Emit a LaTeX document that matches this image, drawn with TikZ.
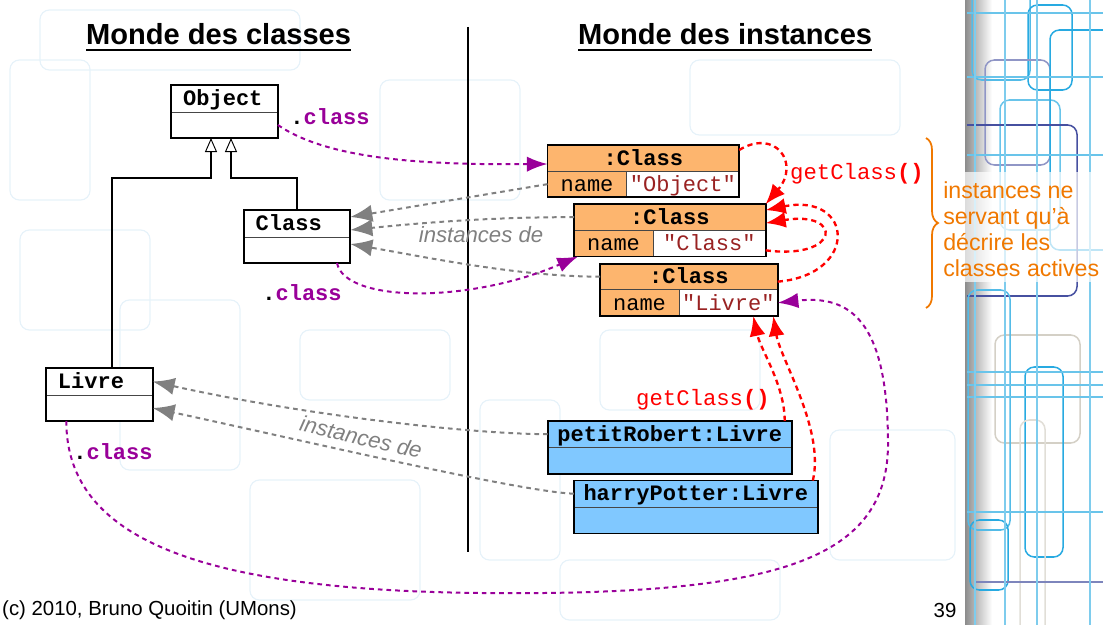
\documentclass[tikz,border=0pt]{standalone}
\usepackage{fontspec}
\setmainfont{Liberation Sans}
\setmonofont{Liberation Mono}
\usepackage{tikz}
\usetikzlibrary{calc,positioning,arrows.meta,decorations.pathreplacing}

\definecolor{clsorange}{RGB}{253,181,110}
\definecolor{objblue}{RGB}{128,200,255}
\definecolor{linkpurple}{RGB}{153,0,153}
\definecolor{instgray}{RGB}{128,128,128}
\definecolor{valred}{RGB}{153,34,34}
\definecolor{noteorange}{RGB}{240,120,0}
\definecolor{darkline}{RGB}{70,70,70}
\definecolor{bgcyan}{RGB}{40,170,225}
\definecolor{bgnavy}{RGB}{70,80,160}
\definecolor{bgbeige}{RGB}{212,208,198}
\definecolor{bgfaint}{RGB}{230,242,249}

\begin{document}
\begin{tikzpicture}[x=0.03cm, y=-0.03cm]
\tikzstyle{title}=[font=\fontsize{24.8}{28}\selectfont\bfseries, inner sep=0pt]
\tikzstyle{umlhead}=[draw=darkline, line width=0.6pt, fill=white, text width=2.48cm, align=left, inner xsep=0.36cm, inner ysep=0pt, minimum height=0.81cm, outer sep=0pt, text height=12.4pt, text depth=0pt, font=\fontsize{18.8}{22}\selectfont\ttfamily\bfseries]
\tikzstyle{umlbody}=[draw=darkline, line width=0.6pt, fill=white, minimum width=3.2cm, minimum height=0.78cm, inner sep=0pt, outer sep=0pt]
\tikzstyle{insthead}=[draw=darkline, line width=0.6pt, fill=clsorange, minimum width=5.75cm, minimum height=0.78cm, inner sep=0pt, outer sep=0pt, text height=12.4pt, text depth=0pt, font=\fontsize{18.8}{22}\selectfont\ttfamily\bfseries]
\tikzstyle{instname}=[draw=darkline, line width=0.6pt, fill=clsorange, minimum width=2.37cm, minimum height=0.79cm, inner sep=0pt, outer sep=0pt, text height=12.4pt, text depth=0pt, font=\fontsize{18.8}{22}\selectfont\ttfamily]
\tikzstyle{instval}=[draw=darkline, line width=0.6pt, fill=white, text=valred, minimum height=0.79cm, inner sep=0pt, outer sep=0pt, text height=12.4pt, text depth=0pt, font=\fontsize{18.8}{22}\selectfont\ttfamily]
\tikzstyle{objhead}=[draw=darkline, line width=0.6pt, fill=objblue, minimum width=7.32cm, minimum height=0.79cm, inner sep=0pt, outer sep=0pt, text height=12.4pt, text depth=0pt, font=\fontsize{18.8}{22}\selectfont\ttfamily\bfseries]
\tikzstyle{objbody}=[draw=darkline, line width=0.6pt, fill=objblue, minimum width=7.32cm, minimum height=0.8cm, inner sep=0pt, outer sep=0pt]
\tikzstyle{boxline}=[line width=1.5pt]
\tikzstyle{inherit}=[line width=1.5pt, -{Triangle[fill=white, line width=0.8pt, length=0.42cm, width=0.36cm]}]
\tikzstyle{classof}=[linkpurple, line width=1.7pt, dash pattern=on 4pt off 3.4pt, -{Latex[length=0.62cm, width=0.46cm]}]
\tikzstyle{instof}=[instgray, line width=1.7pt, dash pattern=on 4pt off 3.4pt, -{Latex[length=0.66cm, width=0.52cm]}]
\tikzstyle{getcls}=[red, line width=2pt, dash pattern=on 4.5pt off 3.4pt, -{Latex[length=0.6cm, width=0.48cm]}]
\tikzstyle{classlabel}=[linkpurple, inner sep=0pt, font=\fontsize{18.8}{22}\selectfont\ttfamily\bfseries]
\tikzstyle{instlabel}=[instgray, inner sep=0pt, font=\fontsize{18.9}{22}\selectfont\itshape]
\tikzstyle{getlabel}=[red, inner sep=0pt, font=\fontsize{19}{22}\selectfont\ttfamily]
\tikzstyle{notetext}=[noteorange, align=left, inner sep=0pt, font=\fontsize{19.8}{22.1}\selectfont]
\tikzstyle{footer}=[inner sep=0pt, font=\fontsize{17.4}{20}\selectfont]
\tikzstyle{bgline}=[line width=1.3pt, rounded corners=8pt]
\useasboundingbox (0,0) rectangle (1103,625);

% background pattern
\foreach \a/\b/\c/\d in {10/60/90/200, 120/300/240/470, 380/80/520/200, 600/330/760/410, 830/430/955/560, 250/480/420/600, 690/60/900/135, 480/400/560/560, 20/230/150/330, 560/560/780/620, 40/10/300/70, 300/330/450/400}
  \draw[bgline, bgfaint, line width=1pt] (\a,\b) rectangle (\c,\d);
\shade[left color=black!45, right color=white] (965,0) rectangle (992,625);
\begin{scope}
\clip (967,0) rectangle (1103,625);
\draw[bgline, bgcyan!80] (972,-10) rectangle (1030,80);
\draw[bgline, bgcyan] (1028,5) rectangle (1072,90);
\draw[bgline, bgnavy!60] (985,60) rectangle (1050,165);
\draw[bgline, bgcyan!70] (1000,100) rectangle (1060,230);
\draw[bgline, bgcyan] (1050,30) rectangle (1130,250);
\draw[bgline, bgnavy] (900,125) rectangle (1077,296);
\draw[bgline, bgbeige] (995,335) rectangle (1080,443);
\draw[bgline, bgcyan] (1025,367) rectangle (1063,557);
\draw[bgline, bgcyan!80] (968,290) rectangle (1010,530);
\draw[bgline, bgcyan] (970,520) rectangle (1008,590);
\draw[bgline, bgbeige!70] (1020,420) rectangle (1045,700);
\draw[bgline, bgnavy!70] (975,582) -- (1103,582);
\foreach \h in {13,77,155,372,385,397,512}
  \draw[bgline, bgcyan!70] (967,\h) -- (1103,\h);
\foreach \v in {975,1005,1037,1090}
  \draw[bgline, bgcyan!60] (\v,0) -- (\v,625);
\end{scope}
\fill[white, opacity=0.7] (965,172) rectangle (1103,282);

% titles and separator
\node[title, anchor=base west] (tcls) at (86,45) {Monde des classes};
\node[title, anchor=base west] (tinst) at (578,45) {Monde des instances};
\draw[line width=1.8pt] ($(tcls.base west)+(0,5)$) -- ($(tcls.base east)+(0,5)$);
\draw[line width=1.8pt] ($(tinst.base west)+(0,5)$) -- ($(tinst.base east)+(0,5)$);
\draw[line width=1.5pt] (468,27) -- (468,552);

% classes
\node[umlhead] (object) at (224.5,98.5) {Object};
\node[umlbody, anchor=north] (objectb) at (object.south) {};
\draw[boxline] (object.north west) rectangle (objectb.south east);
\node[umlhead] (class) at (297,223.5) {Class};
\node[umlbody, anchor=north] (classb) at (class.south) {};
\draw[boxline] (class.north west) rectangle (classb.south east);
\node[umlhead] (livre) at (99.3,381.5) {Livre};
\node[umlbody, anchor=north] (livreb) at (livre.south) {};
\draw[boxline] (livre.north west) rectangle (livreb.south east);
\draw[inherit] ($(livre.north)+(13,0)$) |- ($(objectb.south)+(-13.5,40)$) -- ($(objectb.south)+(-13.5,0)$);
\draw[inherit] (class.north) |- ($(objectb.south)+(6.5,40)$) -- ($(objectb.south)+(6.5,0)$);

% instances of Class
\node[insthead] (c1) at (643.35,158) {:Class};
\node[instname, anchor=north west] (c1n) at (c1.south west) {name};
\node[instval, anchor=north west, minimum width=3.38cm] (c1v) at (c1n.north east) {"Object"};
\draw[boxline] (c1.north west) rectangle (c1v.south east);
\node[insthead] (c2) at (669.85,217.15) {:Class};
\node[instname, anchor=north west] (c2n) at (c2.south west) {name};
\node[instval, anchor=north west, minimum width=3.38cm] (c2v) at (c2n.north east) {"Class"};
\draw[boxline] (c2.north west) rectangle (c2v.south east);
\node[insthead, minimum width=5.33cm] (c3) at (688.85,276.65) {:Class};
\node[instname, anchor=north west] (c3n) at (c3.south west) {name};
\node[instval, anchor=north west, minimum width=2.96cm] (c3v) at (c3n.north east) {"Livre"};
\draw[boxline] (c3.north west) rectangle (c3v.south east);

% instances of Livre
\node[objhead] (petit) at (669.7,434.15) {petitRobert:Livre};
\node[objbody, anchor=north] (petitb) at (petit.south) {};
\draw[boxline] (petit.north west) rectangle (petitb.south east);
\node[objhead] (harry) at (695.85,493.7) {harryPotter:Livre};
\node[objbody, anchor=north] (harryb) at (harry.south) {};
\draw[boxline] (harry.north west) rectangle (harryb.south east);

% instances de
\draw[instof] (c1n.west) -- ($(class.north east)+(0,7)$);
\draw[instof] (c2.west) .. controls +(-80,0) and +(80,-8) .. ($(class.north east)+(0,20)$);
\draw[instof] (c3.west) .. controls +(-80,0) and +(80,14) .. ($(classb.north east)+(0,7)$);
\draw[instof] (petit.west) .. controls +(-78,0) and +(148,33) .. (livre.east);
\draw[instof] (harry.west) .. controls +(-54,-2) and +(148,32) .. (livreb.east);
\node[instlabel] (lbl1) at (481,235) {instances de};
\node[instlabel, rotate=-13] (lbl2) at (361,437) {instances de};

% .class
\draw[classof] (objectb.east) .. controls +(50,34) and +(-127,1) .. ($(c1.west)+(0,6)$);
\draw[classof] ($(classb.south)+(40,0)$) .. controls +(8,40) and +(-108,47) .. ($(c2n.south west)+(4,0)$);
\draw[classof] ($(livreb.south)+(-33,0)$) .. controls +(0,118) and +(-280,-3) .. (480,593) .. controls +(300,3) and +(2,120) .. (888,440) .. controls +(-1,-120) and +(72,-8) .. (c3v.east);
\node[classlabel] (dc1) at (330,117) {\textcolor{black}{.}class};
\node[classlabel] (dc2) at (302,293) {\textcolor{black}{.}class};
\node[classlabel] (dc3) at (113,452) {\textcolor{black}{.}class};

% getClass()
\draw[getcls] ($(c1.east)+(0,-8)$) .. controls +(36,-22) and +(35,-41) .. (c2.north east);
\draw[getcls] ($(c3.east)+(0,5)$) .. controls +(82,-7) and +(88,-18) .. ($(c2.east)+(0,-7)$);
\draw[getcls] ($(c2v.east)+(0,7)$) .. controls +(75,10) and +(78,-13) .. ($(c2.east)+(0,6)$);
\draw[getcls] ($(petit.north east)+(-7,0)$) .. controls +(0,-36) and +(7,33) .. ($(c3v.south east)+(-24.4,0)$);
\draw[getcls] ($(harry.north east)+(-5,0)$) .. controls +(12,-51) and +(7,43) .. ($(c3v.south east)+(-4.4,0)$);
\node[getlabel] (gc1) at (857,174) {getClass\textbf{()}};
\node[getlabel] (gc2) at (703,400) {getClass\textbf{()}};

% note
\draw[noteorange, line width=1.5pt, decorate, decoration={brace, amplitude=0.36cm}] (926,138) -- (926,308);
\node[notetext, anchor=west] (note) at (943,229) {instances ne\\servant qu{\char"27}à\\décrire les\\classes actives};

% footer
\node[footer, anchor=west] (copy) at (2,610) {(c) 2010, Bruno Quoitin (UMons)};
\node[footer] (page) at (945,610) {39};
\end{tikzpicture}
\end{document}
